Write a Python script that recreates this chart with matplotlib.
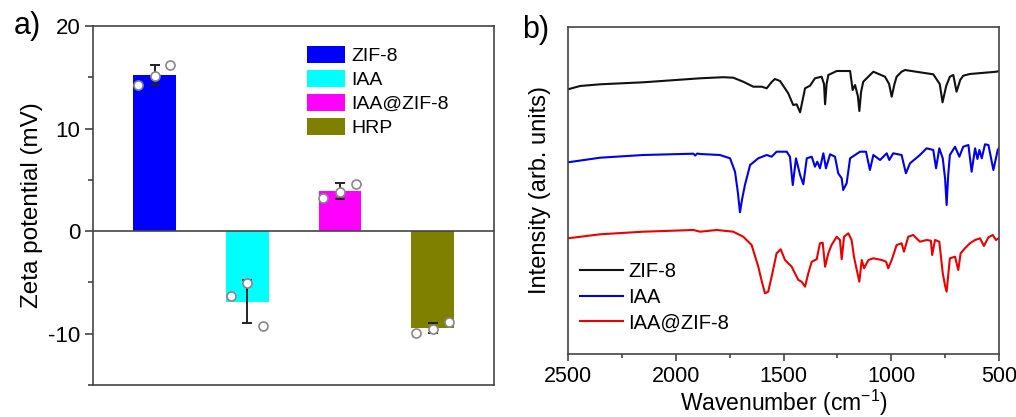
import matplotlib
matplotlib.use("Agg")
import matplotlib.pyplot as plt
from matplotlib.patches import Patch
from matplotlib.ticker import MultipleLocator

plt.rcParams['font.family'] = ['Liberation Sans', 'DejaVu Sans']
plt.rcParams['axes.unicode_minus'] = False
plt.rcParams['mathtext.fontset'] = 'custom'
plt.rcParams['mathtext.rm'] = 'Liberation Sans'
plt.rcParams['mathtext.it'] = 'Liberation Sans:italic'
plt.rcParams['mathtext.bf'] = 'Liberation Sans:bold'

# ---------------- Panel a data ----------------
samples = ["ZIF-8", "IAA", "IAA@ZIF-8", "HRP"]
bar_colors = ["#0000FF", "#00FFFF", "#FF00FF", "#808000"]
zeta_mean = [15.2, -6.9, 3.9, -9.45]
zeta_err = [1.0, 2.1, 0.75, 0.5]
zeta_points = [[14.2, 15.1, 16.2],
               [-6.3, -5.1, -9.2],
               [3.2, 3.8, 4.6],
               [-9.9, -9.5, -8.9]]
point_offsets = [-0.18, 0.0, 0.17]

# ---------------- Panel b data ----------------
wn_zif8 = [2500, 2444, 2351, 2151, 1887, 1780, 1733, 1687, 1640, 1601, 1578, 1555, 1540,
           1516, 1478, 1455, 1439, 1423, 1400, 1377, 1354, 1323, 1312, 1307, 1300, 1292,
           1253, 1191, 1179, 1168, 1155, 1148, 1140, 1130, 1083, 1029, 1010, 998, 985, 975,
           952, 936, 867, 805, 775, 762, 745, 728, 712, 697, 680, 666, 635, 511, 500]
int_zif8 = [264.7, 268.0, 269.7, 271.7, 275.7, 276.8, 276.3, 272.3, 267.3, 267.3, 265.7,
            272.0, 275.0, 273.0, 260.7, 249.0, 249.7, 241.7, 265.7, 268.3, 275.7, 277.3,
            270.0, 249.7, 270.0, 279.0, 283.0, 283.0, 264.0, 269.0, 258.0, 243.0, 262.0,
            272.3, 282.3, 277.3, 270.0, 257.3, 270.0, 277.3, 282.3, 284.0, 281.7, 279.7,
            270.0, 251.7, 268.0, 277.3, 279.0, 262.3, 274.0, 278.3, 280.0, 282.3, 283.0]

wn_iaa = [2500, 2351, 2151, 1918, 1910, 1900, 1887, 1795, 1748, 1725, 1712, 1702, 1692,
          1679, 1655, 1617, 1578, 1555, 1532, 1485, 1470, 1457, 1442, 1423, 1408, 1392,
          1369, 1354, 1343, 1331, 1315, 1303, 1284, 1261, 1246, 1230, 1223, 1207, 1191,
          1145, 1117, 1099, 1083, 1052, 1021, 1009, 991, 952, 932, 913, 867, 836, 805, 792,
          777, 761, 750, 743, 736, 728, 704, 684, 666, 642, 627, 611, 600, 591, 580, 565,
          549, 526, 506, 500]
int_iaa = [191.7, 196.3, 199.0, 200.3, 198.5, 200.5, 200.0, 199.0, 195.7, 182.3, 162.0,
           141.7, 155.0, 169.0, 189.0, 195.7, 199.0, 197.3, 202.3, 202.3, 197.3, 169.0,
           195.7, 179.0, 169.7, 195.7, 197.3, 187.3, 192.3, 185.7, 200.7, 185.7, 199.7,
           197.3, 180.7, 175.7, 164.0, 170.7, 195.7, 202.3, 202.3, 184.0, 199.0, 194.0,
           200.7, 194.0, 200.7, 199.0, 180.7, 190.7, 199.0, 205.7, 204.0, 185.7, 205.7,
           195.7, 175.0, 149.0, 178.0, 199.0, 207.3, 197.3, 207.3, 209.0, 182.3, 205.7,
           195.0, 204.0, 195.7, 209.7, 209.0, 184.0, 204.0, 206.0]

wn_iaazif = [2500, 2351, 2151, 1918, 1887, 1810, 1733, 1687, 1648, 1617, 1600, 1586, 1571,
             1555, 1532, 1513, 1493, 1478, 1462, 1447, 1431, 1416, 1400, 1385, 1369, 1346,
             1331, 1318, 1307, 1292, 1277, 1253, 1238, 1230, 1219, 1199, 1184, 1173, 1160,
             1148, 1137, 1126, 1106, 1083, 1044, 1024, 1014, 998, 975, 952, 941, 921, 898,
             867, 836, 816, 810, 797, 777, 761, 750, 743, 728, 704, 689, 678, 658, 635, 611,
             588, 570, 549, 529, 514, 500]
int_iaazif = [115.7, 119.7, 122.3, 124.0, 122.3, 124.0, 122.3, 117.3, 109.0, 87.3, 72.0,
              60.7, 62.3, 77.3, 100.7, 104.7, 94.0, 90.7, 87.3, 80.7, 74.0, 72.3, 67.3,
              80.7, 92.3, 94.7, 110.7, 111.3, 87.3, 100.7, 109.0, 117.3, 114.0, 94.7,
              117.3, 120.7, 114.0, 97.3, 84.0, 72.3, 94.0, 85.7, 94.0, 95.7, 94.0, 92.3,
              85.7, 94.0, 109.0, 110.7, 102.3, 117.3, 119.0, 112.3, 114.0, 113.3, 99.0,
              114.0, 112.3, 80.7, 68.0, 62.3, 95.7, 97.3, 84.0, 100.7, 105.7, 110.7, 114.0,
              115.7, 108.0, 116.7, 119.0, 114.0, 116.0]

spectra = [("ZIF-8", wn_zif8, int_zif8, "#111111"),
           ("IAA", wn_iaa, int_iaa, "#0000EE"),
           ("IAA@ZIF-8", wn_iaazif, int_iaazif, "#EE0000")]

W, H = 1016, 417
fig = plt.figure(figsize=(W / 100, H / 100), dpi=100)
frame_color = "#444444"

# ---------------- Panel a ----------------
axa = fig.add_axes([93 / W, 1 - 385 / H, 401 / W, 359 / H])
xs = list(range(1, len(samples) + 1))
axa.bar(xs, zeta_mean, width=0.46, color=bar_colors, zorder=2)
axa.errorbar(xs, zeta_mean, yerr=zeta_err, fmt='none', ecolor='#222222',
             elinewidth=1.4, capsize=3.5, capthick=1.4, zorder=3)
for x, pts in zip(xs, zeta_points):
    axa.plot([x + o for o in point_offsets], pts, 'o', ms=6.5, mfc='white',
             mec='#888888', mew=1.2, zorder=4, linestyle='none')
axa.axhline(0, color=frame_color, lw=1.2, zorder=3)
axa.set_xlim(0.335, 4.66)
axa.set_ylim(-15, 20)
axa.yaxis.set_major_locator(MultipleLocator(10))
axa.yaxis.set_minor_locator(MultipleLocator(5))
axa.set_xticks([])
axa.tick_params(axis='y', which='major', direction='out', length=6, width=1.2,
                colors=frame_color, labelcolor='black', labelsize=16, pad=3)
axa.tick_params(axis='y', which='minor', direction='out', length=3.5, width=1.2,
                colors=frame_color)
for s in axa.spines.values():
    s.set_color(frame_color)
    s.set_linewidth(1.2)
axa.set_ylabel("Zeta potential (mV)", fontsize=17.5, labelpad=4)
handles_a = [Patch(facecolor=c, edgecolor='none', label=l) for c, l in zip(bar_colors, samples)]
axa.legend(handles=handles_a, loc='upper left', bbox_to_anchor=(307 / W, 1 - 46 / H),
           bbox_transform=fig.transFigure, frameon=False, fontsize=14, borderpad=0,
           handlelength=1.95, handleheight=0.95, labelspacing=0.25, handletextpad=0.35,
           borderaxespad=0)
fig.text(14 / W, 1 - 26 / H, "a)", fontsize=22, va='center', ha='left')

# ---------------- Panel b ----------------
axb = fig.add_axes([568 / W, 1 - 354 / H, 431 / W, 327 / H])
for label, wn, inten, col in spectra:
    axb.plot(wn, inten, color=col, lw=1.5, label=label)
axb.set_xlim(2500, 500)
axb.set_ylim(0, 327)
axb.set_yticks([])
axb.xaxis.set_major_locator(MultipleLocator(500))
axb.xaxis.set_minor_locator(MultipleLocator(250))
axb.tick_params(axis='x', which='major', direction='out', length=5, width=1.2,
                colors=frame_color, labelcolor='black', labelsize=15.5, pad=4)
axb.tick_params(axis='x', which='minor', direction='out', length=3, width=1.2,
                colors=frame_color)
for s in axb.spines.values():
    s.set_color(frame_color)
    s.set_linewidth(1.2)
axb.set_xlabel("Wavenumber (cm$^{-1}$)", fontsize=16.5, labelpad=0)
axb.set_ylabel("Intensity (arb. units)", fontsize=17, labelpad=12)
axb.legend(loc='upper left', bbox_to_anchor=(580 / W, 1 - 262 / H),
           bbox_transform=fig.transFigure, frameon=False, fontsize=14.5, borderpad=0,
           handlelength=2.15, labelspacing=0.33, handletextpad=0.25, borderaxespad=0)
fig.text(522 / W, 1 - 30 / H, "b)", fontsize=22, va='center', ha='left')

fig.savefig("out.png", dpi=100)
